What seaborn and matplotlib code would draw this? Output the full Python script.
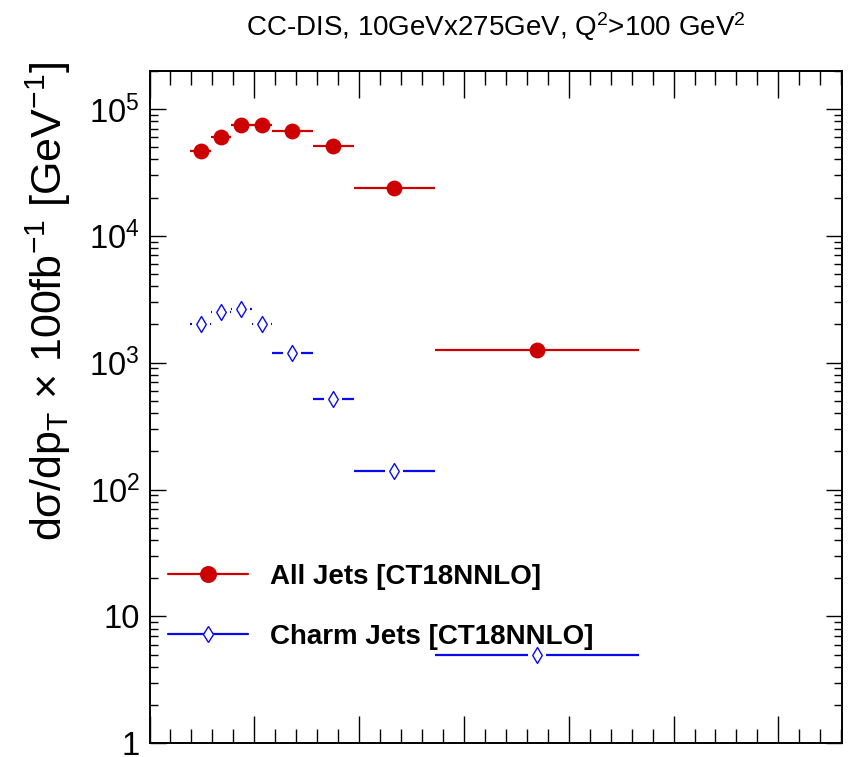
import numpy as np
import pandas as pd
import matplotlib
matplotlib.use("Agg")
import matplotlib.pyplot as plt
import seaborn as sns
from matplotlib.ticker import FixedLocator, LogLocator, NullFormatter, FuncFormatter
from matplotlib.lines import Line2D

# ---------------- data ----------------
pt_lo = [2, 3, 4, 5, 6, 8, 10, 14]
pt_hi = [3, 4, 5, 6, 8, 10, 14, 24]
all_jets = [46900, 59700, 74500, 74000, 67400, 51300, 23600, 1250]
charm_jets = [2010, 2530, 2640, 2010, 1190, 514, 140, 5.0]
series_names = ["All Jets [CT18NNLO]", "Charm Jets [CT18NNLO]"]
title_text = r"CC-DIS, 10GeVx275GeV, Q$^{2}$>100 GeV$^{2}$"
ylabel_text = r"d$\sigma$/dp$_{\mathregular{T}}$ $\times$ 100fb$^{\mathregular{-1}}$ [GeV$^{\mathregular{-1}}$]"
ytick_vals = [1, 10, 100, 1000, 10000, 100000]
ytick_labels = ["1", "10", r"10$^{2}$", r"10$^{3}$", r"10$^{4}$", r"10$^{5}$"]

RED = "#cc0000"
BLUE = "#0a0aee"

rows = []
for name, vals in zip(series_names, [all_jets, charm_jets]):
    for lo, hi, v in zip(pt_lo, pt_hi, vals):
        rows.append({"series": name, "lo": lo, "hi": hi,
                     "pt": 0.5 * (lo + hi), "value": v})
df = pd.DataFrame(rows)

sns.set_style("ticks")
plt.rcParams["font.family"] = ["Liberation Sans", "DejaVu Sans"]
plt.rcParams["mathtext.fontset"] = "custom"
plt.rcParams["mathtext.rm"] = "Liberation Sans"
plt.rcParams["mathtext.it"] = "Liberation Sans:italic"
plt.rcParams["mathtext.bf"] = "Liberation Sans:bold"
plt.rcParams["mathtext.default"] = "regular"
for k in ["text.color", "axes.labelcolor", "xtick.color", "ytick.color",
          "axes.edgecolor"]:
    plt.rcParams[k] = "black"

fig = plt.figure(figsize=(8.52, 7.57), dpi=100)
ax = fig.add_axes([0.1755, 0.0181, 0.8131, 0.8885])

XMAX = 33.94
ax.set_xlim(0, XMAX)
ax.set_yscale("log")
ax.set_ylim(1, 2.0e5)

# x error bars
d_all = df[df.series == series_names[0]]
d_ch = df[df.series == series_names[1]]
ax.hlines(d_all["value"], d_all["lo"], d_all["hi"], color=RED, lw=1.6, zorder=2)
gap = 0.44
ax.hlines(d_ch["value"], d_ch["lo"], np.minimum(d_ch["pt"] - gap, d_ch["hi"]),
          color=BLUE, lw=1.6, zorder=2)
ax.hlines(d_ch["value"], np.maximum(d_ch["pt"] + gap, d_ch["lo"]), d_ch["hi"],
          color=BLUE, lw=1.6, zorder=2)

sns.scatterplot(data=d_all, x="pt", y="value", marker="o", s=130,
                color=RED, edgecolor=RED, linewidth=0, ax=ax, zorder=3,
                legend=False)
sns.scatterplot(data=d_ch, x="pt", y="value", marker="d", s=66,
                color="white", edgecolor=BLUE, linewidth=1.0, ax=ax, zorder=3,
                legend=False)

# axes styling (ROOT-like)
for sp in ax.spines.values():
    sp.set_linewidth(1.4)
    sp.set_color("black")
    sp.set_visible(True)

minor_step = 20.96 / 20.41
xt_minor = np.arange(0, XMAX, minor_step)
xt_major = xt_minor[::5]
ax.xaxis.set_major_locator(FixedLocator(xt_major))
ax.xaxis.set_minor_locator(FixedLocator(xt_minor))
ax.tick_params(axis="x", which="major", direction="in", length=19.5, width=1.0,
               top=True, bottom=True, labelbottom=False)
ax.tick_params(axis="x", which="minor", direction="in", length=9.8, width=1.0,
               top=True, bottom=True)

ax.yaxis.set_major_locator(FixedLocator(ytick_vals))
ax.yaxis.set_major_formatter(FuncFormatter(
    lambda v, p: ytick_labels[ytick_vals.index(v)] if v in ytick_vals else ""))
ax.yaxis.set_minor_locator(LogLocator(base=10, subs=np.arange(2, 10), numticks=20))
ax.yaxis.set_minor_formatter(NullFormatter())
ax.tick_params(axis="y", which="major", direction="in", length=11.2, width=1.0,
               left=True, right=True, labelsize=23.5, pad=7)
ax.tick_params(axis="y", which="minor", direction="in", length=5.8, width=1.0,
               left=True, right=True)
ax.set_xlabel("")

ax.set_ylabel(ylabel_text, fontsize=31, ha="right", va="baseline")
ax.yaxis.set_label_coords(-0.126, 1.013)

ax.set_title(title_text, fontsize=20, pad=25)

handles = [
    Line2D([], [], color=RED, lw=1.6, marker="o", ms=11.2, mfc=RED, mec=RED),
    Line2D([], [], color=BLUE, lw=1.6, marker="d", ms=8.15, mfc="white",
           mec=BLUE, mew=1.0),
]
leg = ax.legend(handles, series_names, loc="center left",
                bbox_to_anchor=(0.0267, 0.2027), frameon=False,
                prop={"weight": "bold", "size": 20}, handlelength=2.88,
                handletextpad=0.79, labelspacing=1.21, borderpad=0,
                borderaxespad=0)

fig.savefig("out.png", dpi=100)
